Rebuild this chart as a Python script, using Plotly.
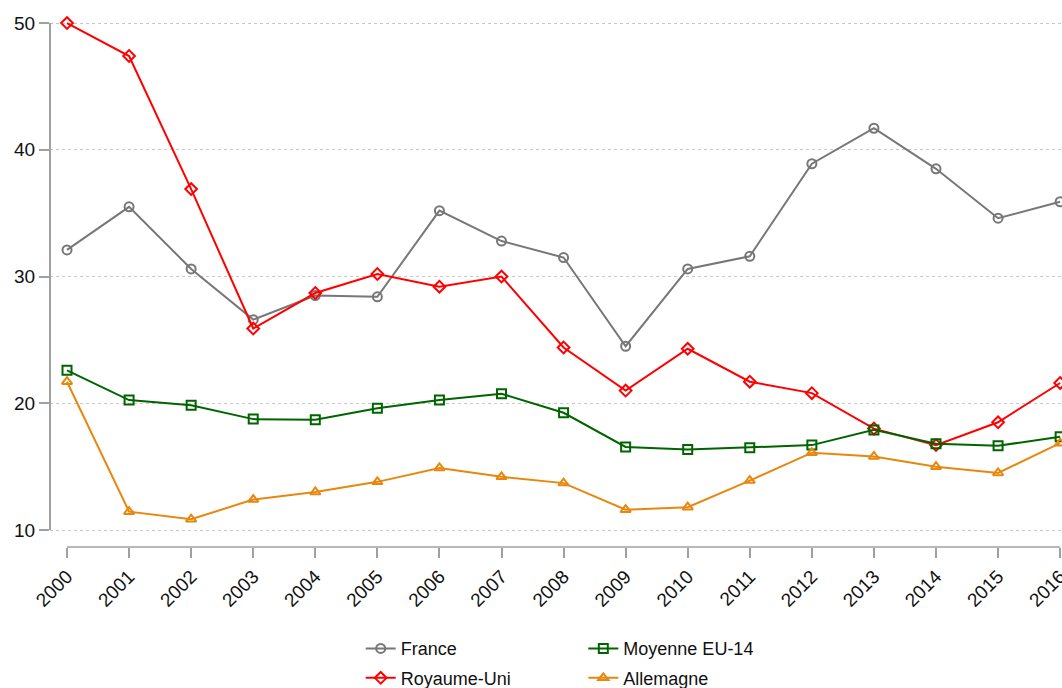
import plotly.graph_objects as go

years = list(range(2000, 2017))
france = [32.1, 35.5, 30.6, 26.6, 28.5, 28.4, 35.2, 32.8, 31.5, 24.5, 30.6, 31.6, 38.9, 41.7, 38.5, 34.6, 35.9]
royaume_uni = [50.0, 47.4, 36.9, 25.9, 28.7, 30.2, 29.2, 30.0, 24.4, 21.0, 24.3, 21.7, 20.8, 18.0, 16.7, 18.5, 21.6]
moyenne_eu14 = [22.6, 20.25, 19.85, 18.75, 18.7, 19.6, 20.25, 20.75, 19.25, 16.55, 16.35, 16.5, 16.7, 17.9, 16.8, 16.65, 17.35]
allemagne = [21.7, 11.45, 10.85, 12.4, 13.0, 13.8, 14.9, 14.2, 13.7, 11.6, 11.8, 13.9, 16.1, 15.8, 15.0, 14.5, 16.85]
y_ticks = [10, 20, 30, 40, 50]

series = [
    ("France", france, "#777777", "circle-open", "legend"),
    ("Royaume-Uni", royaume_uni, "#ff0000", "diamond-open", "legend"),
    ("Moyenne EU-14", moyenne_eu14, "#006400", "square-open", "legend2"),
    ("Allemagne", allemagne, "#e8870e", "triangle-up-open", "legend2"),
]

y_range = [8.66, 51.03]
x_range = [1999.726, 2016.03]

fig = go.Figure()
for name, vals, color, sym, leg in series:
    fig.add_trace(go.Scatter(
        x=years, y=vals, name=name, mode="lines+markers", legend=leg, legendgroup=name,
        line=dict(color=color, width=2),
        marker=dict(symbol=sym, size=9, color=color, line=dict(width=2, color=color)),
        cliponaxis=False,
    ))

axis_col = "#a0a0a0"
leg_common = dict(orientation="v", yanchor="top", y=-0.155, xanchor="left",
                  font=dict(size=18, color="#111111"), itemwidth=30, tracegroupgap=3,
                  bgcolor="rgba(0,0,0,0)")
fig.update_layout(
    width=1062, height=688,
    margin=dict(l=50, r=0, t=10, b=141, autoexpand=False),
    paper_bgcolor="white", plot_bgcolor="white",
    font=dict(family="Liberation Sans, Arial, sans-serif", size=18, color="#111111"),
    showlegend=True,
    legend=dict(x=0.307, **leg_common),
    legend2=dict(x=0.527, **leg_common),
    xaxis=dict(range=x_range, tickvals=years, ticktext=[str(y) for y in years],
               tickangle=-45, ticks="outside", ticklen=10, tickcolor=axis_col, tickwidth=1.5,
               showgrid=False, showline=False, zeroline=False, tickfont=dict(size=19),
               automargin=False, ticklabeloverflow="allow"),
    yaxis=dict(range=y_range, tickvals=y_ticks, ticks="outside", ticklen=10,
               tickcolor=axis_col, tickwidth=1.5, showline=False, zeroline=False,
               showgrid=True, gridcolor="#c8c8c8", griddash="dot", gridwidth=1,
               tickfont=dict(size=19), automargin=False),
)

# detached axis lines (Stata style): each spans first to last tick only
def to_frac(v, r):
    return (v - r[0]) / (r[1] - r[0])

fig.add_shape(type="line", xref="paper", yref="paper", x0=0, x1=0,
              y0=to_frac(min(y_ticks), y_range), y1=to_frac(max(y_ticks), y_range),
              line=dict(color=axis_col, width=2), layer="above")
fig.add_shape(type="line", xref="paper", yref="paper",
              x0=to_frac(years[0], x_range), x1=to_frac(years[-1], x_range), y0=0, y1=0,
              line=dict(color=axis_col, width=1.6), layer="above")

fig.write_html("out.html", config={"displayModeBar": False},
               post_script="document.body.style.margin='0';document.body.style.overflow='hidden';")
